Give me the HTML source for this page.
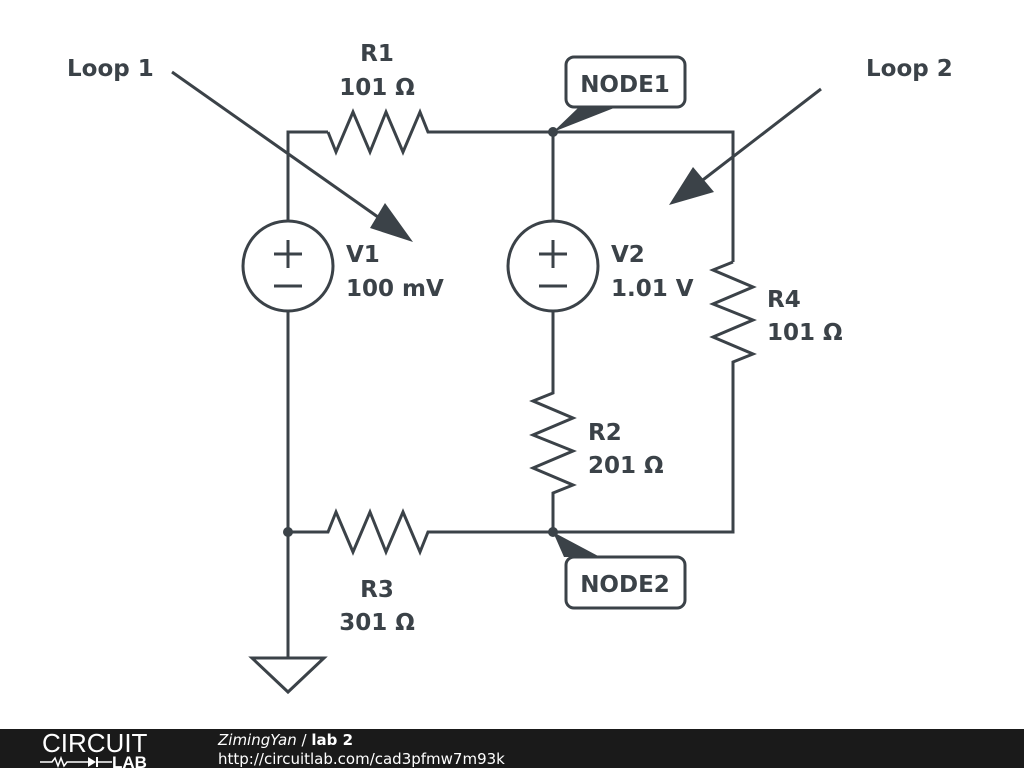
<!DOCTYPE html>
<html><head><style>
body{margin:0;width:1024px;height:768px;background:#fff;overflow:hidden;font-family:"DejaVu Sans","Liberation Sans",sans-serif}
svg text{font-family:"DejaVu Sans","Liberation Sans",sans-serif;font-weight:bold;font-size:23px;fill:#3b4248}
</style></head><body>
<svg width="1024" height="768" viewBox="0 0 1024 768">
<g fill="none" stroke="#3b4248" stroke-width="3" stroke-linejoin="miter">
<polyline points="288,221 288,132 328,132"/>
<polyline points="328,132 336,152 353,112 370,152 386,112 403,152 420,112 428,132 733,132 733,262"/>
<polyline points="733,262 713,270 753,287 713,304 753,320 713,337 753,354 733,362 733,532 553,532"/>
<line x1="288" y1="311" x2="288" y2="658"/>
<circle cx="288" cy="266" r="45"/>
<line x1="274" y1="254" x2="302" y2="254"/><line x1="288" y1="240" x2="288" y2="268"/>
<line x1="274" y1="286" x2="302" y2="286"/>
<line x1="553" y1="132" x2="553" y2="221"/>
<circle cx="553" cy="266" r="45"/>
<line x1="539" y1="254" x2="567" y2="254"/><line x1="553" y1="240" x2="553" y2="268"/>
<line x1="539" y1="286" x2="567" y2="286"/>
<polyline points="553,311 553,393 533,401 573,418 533,435 573,451 533,468 573,485 553,493 553,532"/>
<polyline points="288,532 328,532 336,512 353,552 370,512 386,552 403,512 420,552 428,532 553,532"/>
<polygon points="252,658 324,658 288,692"/>
<line x1="172" y1="72" x2="385" y2="222"/>
<line x1="821" y1="89" x2="695" y2="186"/>
<rect x="566" y="57" width="119" height="50" rx="8"/>
<rect x="566" y="557" width="119" height="51" rx="8"/>
</g>
<g fill="#3b4248">
<polygon points="413,242 385,203 370,228"/>
<polygon points="669,205 693,167 714,192"/>
<circle cx="553" cy="132" r="5"/>
<circle cx="553" cy="532" r="5"/>
<circle cx="288" cy="532" r="5"/>
<polygon points="553,132 578,108 614,108"/>
<polygon points="553,532 564,557 600,557"/>
</g>
<text x="67" y="76">Loop 1</text>
<text x="866" y="76">Loop 2</text>
<text x="377" y="61" text-anchor="middle">R1</text>
<text x="377" y="95" text-anchor="middle">101 Ω</text>
<text x="625" y="92" text-anchor="middle">NODE1</text>
<text x="625" y="592" text-anchor="middle">NODE2</text>
<text x="346" y="262">V1</text>
<text x="346" y="296">100 mV</text>
<text x="611" y="262">V2</text>
<text x="611" y="296">1.01 V</text>
<text x="767" y="307">R4</text>
<text x="767" y="340">101 Ω</text>
<text x="588" y="440">R2</text>
<text x="588" y="473">201 Ω</text>
<text x="377" y="597" text-anchor="middle">R3</text>
<text x="377" y="630" text-anchor="middle">301 Ω</text>
<rect x="0" y="729" width="1024" height="39" fill="#1a1a1a"/>
<text x="42" y="752" style="font-family:'Liberation Sans',sans-serif;font-weight:normal;font-size:26px;fill:#fff">CIRCUIT</text>
<polyline points="40,762 52,762 55,758 58,766 61,758 64,766 67,762 88,762" fill="none" stroke="#fff" stroke-width="1.5"/>
<polygon points="88,757 88,767 96,762" fill="#fff"/><line x1="97" y1="757" x2="97" y2="767" stroke="#fff" stroke-width="2"/>
<line x1="97" y1="762" x2="112" y2="762" stroke="#fff" stroke-width="1.5"/>
<text x="112" y="768" style="font-family:'Liberation Sans',sans-serif;font-size:17px;fill:#fff">LAB</text>
<text x="218" y="745" style="font-size:15px;fill:#fff;font-weight:normal;font-style:italic">ZimingYan <tspan font-style="normal">/</tspan> <tspan font-style="normal" font-weight="bold">lab 2</tspan></text>
<text x="218" y="764" style="font-size:15px;fill:#fff;font-weight:normal">http://circuitlab.com/cad3pfmw7m93k</text>
</svg>
</body></html>
